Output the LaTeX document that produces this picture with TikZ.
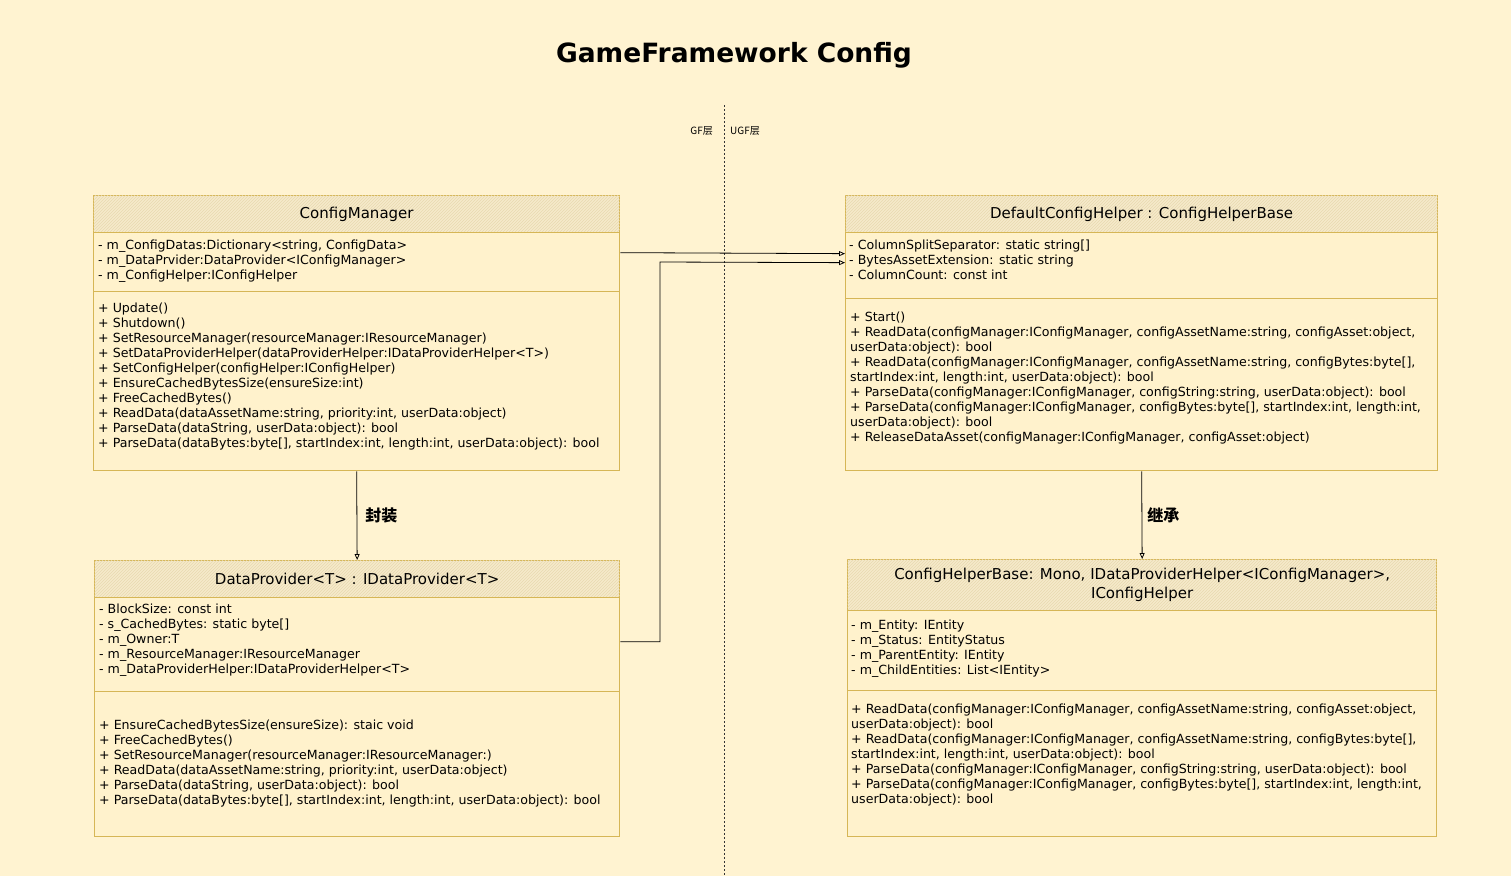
\documentclass[tikz,border=0pt]{standalone}
\usepackage{fontspec}
\setmainfont{DejaVu Sans}
\newfontfamily\cjk{Noto Sans CJK SC}
\usetikzlibrary{arrows.meta,patterns,positioning}
\definecolor{paper}{HTML}{FFF3D1}
\definecolor{boxfill}{HTML}{FFF2CC}
\definecolor{boxline}{HTML}{D6B656}
\definecolor{headfill}{HTML}{F6EACB}
\definecolor{hatch}{HTML}{E8D9B0}
\tikzset{
  compart/.style={draw=boxline, fill=boxfill, line width=1.3pt, anchor=north west, inner sep=0pt},
  headbox/.style={compart, fill=headfill, postaction={pattern=north east lines, pattern color=hatch},
    align=center, font=\fontsize{15}{19}\selectfont},
  member/.style={anchor=west, inner sep=0pt, text height=10.5pt, text depth=1.5pt, font=\fontsize{12.6}{15}\selectfont},
  edgelbl/.style={inner sep=0pt, font=\cjk\bfseries\fontsize{16}{18}\selectfont},
  layerlbl/.style={inner sep=0pt, font=\cjk\fontsize{10}{12}\selectfont},
}
\begin{document}
\begin{tikzpicture}[x=1pt,y=-1pt,>={Triangle[open,length=6pt,width=5pt]}]
\useasboundingbox (0,0) rectangle (1511,876);
\fill[paper] (0,0) rectangle (1511,876);
\node[font=\bfseries\fontsize{26.5}{30}\selectfont] (title) at (734,55) {GameFramework Config};
\coordinate (divTop) at (724,105);
\coordinate (divBot) at (724,876);
\draw[dash pattern=on 2pt off 2pt, line width=0.8pt, black!80] (divTop) -- (divBot);
\node[layerlbl, anchor=east] (gfLbl) at (713,131) {GF层};
\node[layerlbl, anchor=west] (ugfLbl) at (730,131) {UGF层};

% ConfigManager
\node[headbox, minimum width=526, minimum height=37] (cmHead) at (93,195) {ConfigManager};
\node[compart, minimum width=526, minimum height=59] (cmAttr) at (93,232) {};
\node[compart, minimum width=526, minimum height=179] (cmOps) at (93,291) {};
\foreach \t [count=\i from 0] in {
  {- m\_ConfigDatas:Dictionary<string, ConfigData>},
  {- m\_DataPrvider:DataProvider<IConfigManager>},
  {- m\_ConfigHelper:IConfigHelper}} {
  \node[member] (cmA\i) at (98,245+15*\i) {\t};
}
\foreach \t [count=\i from 0] in {
  {+ Update()},
  {+ Shutdown()},
  {+ SetResourceManager(resourceManager:IResourceManager)},
  {+ SetDataProviderHelper(dataProviderHelper:IDataProviderHelper<T>)},
  {+ SetConfigHelper(configHelper:IConfigHelper)},
  {+ EnsureCachedBytesSize(ensureSize:int)},
  {+ FreeCachedBytes()},
  {+ ReadData(dataAssetName:string, priority:int, userData:object)},
  {+ ParseData(dataString, userData:object): bool},
  {+ ParseData(dataBytes:byte[], startIndex:int, length:int, userData:object): bool}} {
  \node[member] (cmM\i) at (98,308+15*\i) {\t};
}

% DefaultConfigHelper
\node[headbox, minimum width=592, minimum height=37] (dchHead) at (845,195) {DefaultConfigHelper : ConfigHelperBase};
\node[compart, minimum width=592, minimum height=66] (dchAttr) at (845,232) {};
\node[compart, minimum width=592, minimum height=172] (dchOps) at (845,298) {};
\foreach \t [count=\i from 0] in {
  {- ColumnSplitSeparator: static string[]},
  {- BytesAssetExtension: static string},
  {- ColumnCount: const int}} {
  \node[member] (dchA\i) at (849,245+15*\i) {\t};
}
\foreach \t [count=\i from 0] in {
  {+ Start()},
  {+ ReadData(configManager:IConfigManager, configAssetName:string, configAsset:object,},
  {userData:object): bool},
  {+ ReadData(configManager:IConfigManager, configAssetName:string, configBytes:byte[],},
  {startIndex:int, length:int, userData:object): bool},
  {+ ParseData(configManager:IConfigManager, configString:string, userData:object): bool},
  {+ ParseData(configManager:IConfigManager, configBytes:byte[], startIndex:int, length:int,},
  {userData:object): bool},
  {+ ReleaseDataAsset(configManager:IConfigManager, configAsset:object)}} {
  \node[member] (dchM\i) at (850,317+15*\i) {\t};
}

% DataProvider
\node[headbox, minimum width=525, minimum height=37] (dpHead) at (94,560) {DataProvider<T> : IDataProvider<T>};
\node[compart, minimum width=525, minimum height=94] (dpAttr) at (94,597) {};
\node[compart, minimum width=525, minimum height=145] (dpOps) at (94,691) {};
\foreach \t [count=\i from 0] in {
  {- BlockSize: const int},
  {- s\_CachedBytes: static byte[]},
  {- m\_Owner:T},
  {- m\_ResourceManager:IResourceManager},
  {- m\_DataProviderHelper:IDataProviderHelper<T>}} {
  \node[member] (dpA\i) at (99,609+15*\i) {\t};
}
\foreach \t [count=\i from 0] in {
  {+ EnsureCachedBytesSize(ensureSize): staic void},
  {+ FreeCachedBytes()},
  {+ SetResourceManager(resourceManager:IResourceManager:)},
  {+ ReadData(dataAssetName:string, priority:int, userData:object)},
  {+ ParseData(dataString, userData:object): bool},
  {+ ParseData(dataBytes:byte[], startIndex:int, length:int, userData:object): bool}} {
  \node[member] (dpM\i) at (99,725+15*\i) {\t};
}

% ConfigHelperBase
\node[headbox, minimum width=589, minimum height=51] (chbHead) at (847,559)
  {ConfigHelperBase: Mono, IDataProviderHelper<IConfigManager>,\\ IConfigHelper};
\node[compart, minimum width=589, minimum height=80] (chbAttr) at (847,610) {};
\node[compart, minimum width=589, minimum height=146] (chbOps) at (847,690) {};
\foreach \t [count=\i from 0] in {
  {- m\_Entity: IEntity},
  {- m\_Status: EntityStatus},
  {- m\_ParentEntity: IEntity},
  {- m\_ChildEntities: List<IEntity>}} {
  \node[member] (chbA\i) at (851,625+15*\i) {\t};
}
\foreach \t [count=\i from 0] in {
  {+ ReadData(configManager:IConfigManager, configAssetName:string, configAsset:object,},
  {userData:object): bool},
  {+ ReadData(configManager:IConfigManager, configAssetName:string, configBytes:byte[],},
  {startIndex:int, length:int, userData:object): bool},
  {+ ParseData(configManager:IConfigManager, configString:string, userData:object): bool},
  {+ ParseData(configManager:IConfigManager, configBytes:byte[], startIndex:int, length:int,},
  {userData:object): bool}} {
  \node[member] (chbM\i) at (851,709+15*\i) {\t};
}

% links
\coordinate (bend) at (660,262);
\draw[->, line width=0.8pt] (cmOps.south) -- node[edgelbl, right=8pt] (wrapLbl) {封装} (dpHead.north);
\draw[->, line width=0.8pt] (dchOps.south) -- node[edgelbl, right=5pt] (inheritLbl) {继承} (chbHead.north);
\draw[->, line width=0.8pt] ([yshift=9.5pt]cmAttr.east) -- ([yshift=12pt]dchAttr.west);
\draw[->, line width=0.8pt] ([yshift=3pt]dpAttr.east) -| (bend) -- ([yshift=3pt]dchAttr.west);
\end{tikzpicture}
\end{document}
